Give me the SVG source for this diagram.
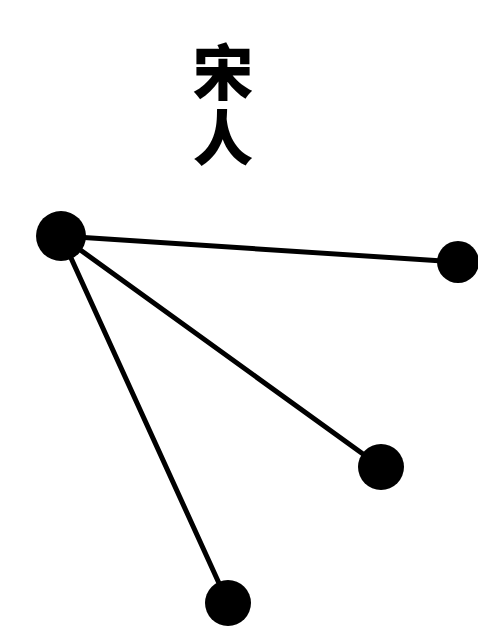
<svg xmlns="http://www.w3.org/2000/svg" width="478" height="642" viewBox="0 0 478 642">
<style>
.t{font-family:"Noto Sans CJK SC","Noto Sans CJK JP",sans-serif;font-weight:900;font-size:60px;fill:#000;writing-mode:vertical-rl;text-orientation:upright;letter-spacing:6px}
.e{stroke:#000;stroke-width:5;stroke-linecap:round;fill:none}
.n{fill:#000}
</style>
<rect width="478" height="642" fill="#fff"/>
<g id="title">
<text class="t" x="223" y="42">宋人</text>
</g>
<g id="edges">
<line class="e" x1="61" y1="236" x2="458" y2="262"/>
<line class="e" x1="61" y1="236" x2="381" y2="467"/>
<line class="e" x1="61" y1="236" x2="228" y2="603"/>
</g>
<g id="n0"><circle class="n" cx="61" cy="236" r="25"/></g>
<g id="n1"><circle class="n" cx="458" cy="262" r="21"/></g>
<g id="n2"><circle class="n" cx="381" cy="467" r="23"/></g>
<g id="n3"><circle class="n" cx="228" cy="603" r="23"/></g>
</svg>
